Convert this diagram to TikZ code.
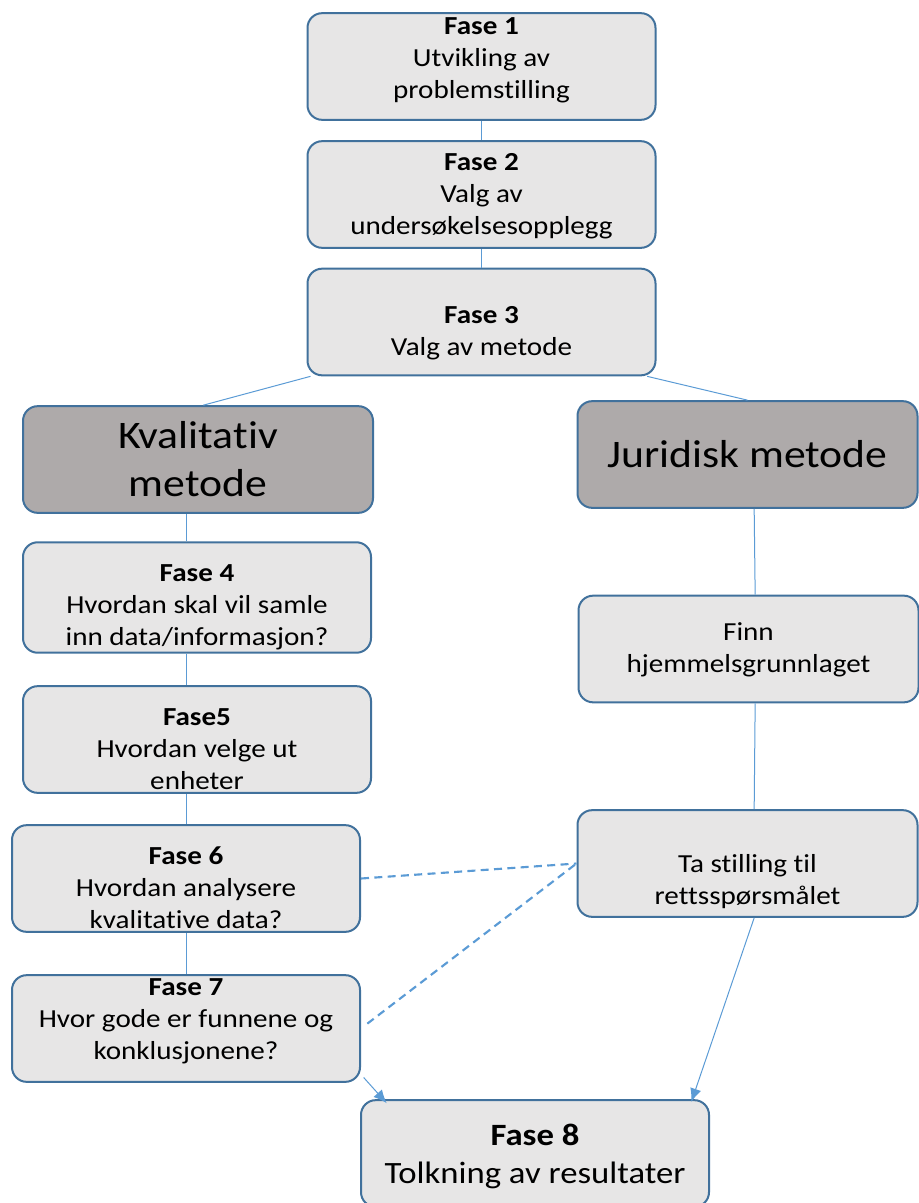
\documentclass[tikz,border=0pt]{standalone}
\usepackage{fontspec}
\setmainfont{Carlito}[FakeStretch=1.12,Ligatures=NoCommon]
\usetikzlibrary{arrows.meta}
\definecolor{boxfill}{HTML}{E7E6E6}
\definecolor{methodfill}{HTML}{AEAAAA}
\definecolor{boxline}{HTML}{41719C}
\definecolor{connline}{HTML}{5B9BD5}
% invisible struts to move text a little inside its box
\newcommand{\padtop}[1]{\rule{0pt}{#1}}
\newcommand{\padbot}[1]{\rule[-#1]{0pt}{#1}}
\begin{document}
\begin{tikzpicture}[x=0.75pt,y=-0.75pt,
  box/.style={draw=boxline,fill=boxfill,line width=1.5pt,rounded corners=11pt,align=center,
    minimum width=261pt,minimum height=80pt,inner sep=2pt,font=\fontsize{19.5}{24}\selectfont},
  method/.style={box,fill=methodfill,font=\fontsize{29.25}{36}\selectfont},
  conn/.style={draw=connline,line width=0.75pt},
  link/.style={conn,line width=1.6pt,dash pattern=on 6pt off 4pt},
  arrowline/.style={conn,-{Latex[length=10pt,width=8.5pt]}}]
  \useasboundingbox (0,0) rectangle (919,1203);
  % --- felles faser ---
  \node[box] (f1) at (481.5,66.5) {\textbf{Fase 1}\\Utvikling av\\problemstilling\padbot{12pt}};
  \node[box] (f2) at (481.5,194.5) {\padtop{15pt}\textbf{Fase 2}\\Valg av\\undersøkelsesopplegg};
  \node[box] (f3) at (481.5,322) {\padtop{30pt}\textbf{Fase 3}\\Valg av metode};
  % --- venstre: kvalitativ metode ---
  \node[method,minimum width=262.5pt] (kval) at (198,459.5) {Kvalitativ\\metode};
  \node[box] (f4) at (197,597.5) {\padtop{27.5pt}\textbf{Fase 4}\\Hvordan skal vil samle\\inn data/informasjon?};
  \node[box] (f5) at (197,739.5) {\padtop{27.5pt}\textbf{Fase5}\\Hvordan velge ut\\enheter};
  \node[box] (f6) at (186,878.5) {\padtop{27.5pt}\textbf{Fase 6}\\Hvordan analysere\\kvalitative data?};
  \node[box] (f7) at (186,1028.5) {\textbf{Fase 7}\\Hvor gode er funnene og\\konklusjonene?\padbot{14pt}};
  % --- hoyre: juridisk metode ---
  \node[method,minimum width=255pt] (jur) at (747.5,454.5) {Juridisk metode};
  \node[box,minimum width=255pt] (finn) at (748.5,649) {\padtop{15pt}Finn\\hjemmelsgrunnlaget};
  \node[box,minimum width=255pt] (ta) at (747.5,863.5) {\strut\\Ta stilling til\\rettsspørsmålet};
  % --- felles slutt ---
  \node[box,font=\fontsize{23.25}{28.5}\selectfont] (f8) at (535,1153.5) {\padtop{21pt}\textbf{Fase 8}\\Tolkning av resultater};
  % --- forbindelser ---
  \draw[conn] (f1) -- (f2);
  \draw[conn] (f2) -- (f3);
  \draw[conn] ([xshift=3pt]f3.south west) -- ([xshift=4pt]kval.north);
  \draw[conn] ([xshift=-7pt]f3.south east) -- (jur.north);
  \draw[conn] (kval.south -| f6) -- (f4.north -| f6);
  \draw[conn] (f4.south -| f6) -- (f5.north -| f6);
  \draw[conn] (f5.south -| f6) -- (f6.north);
  \draw[conn] (f6) -- (f7);
  \draw[conn] ([xshift=5pt]jur.south) -- ([xshift=5pt]finn.north);
  \draw[conn] ([xshift=5pt]finn.south) -- ([xshift=5pt]ta.north);
  \draw[link] (f6.east) -- (ta.west);
  \draw[link,shorten <=6pt] (f7.east) -- (ta.west);
  \draw[arrowline] ([xshift=5pt]ta.south) -- ([xshift=-14pt,yshift=-2pt]f8.north east);
  \draw[arrowline] ([xshift=2pt,yshift=4pt]f7.south east) -- ([xshift=20pt,yshift=-3pt]f8.north west);
\end{tikzpicture}
\end{document}
